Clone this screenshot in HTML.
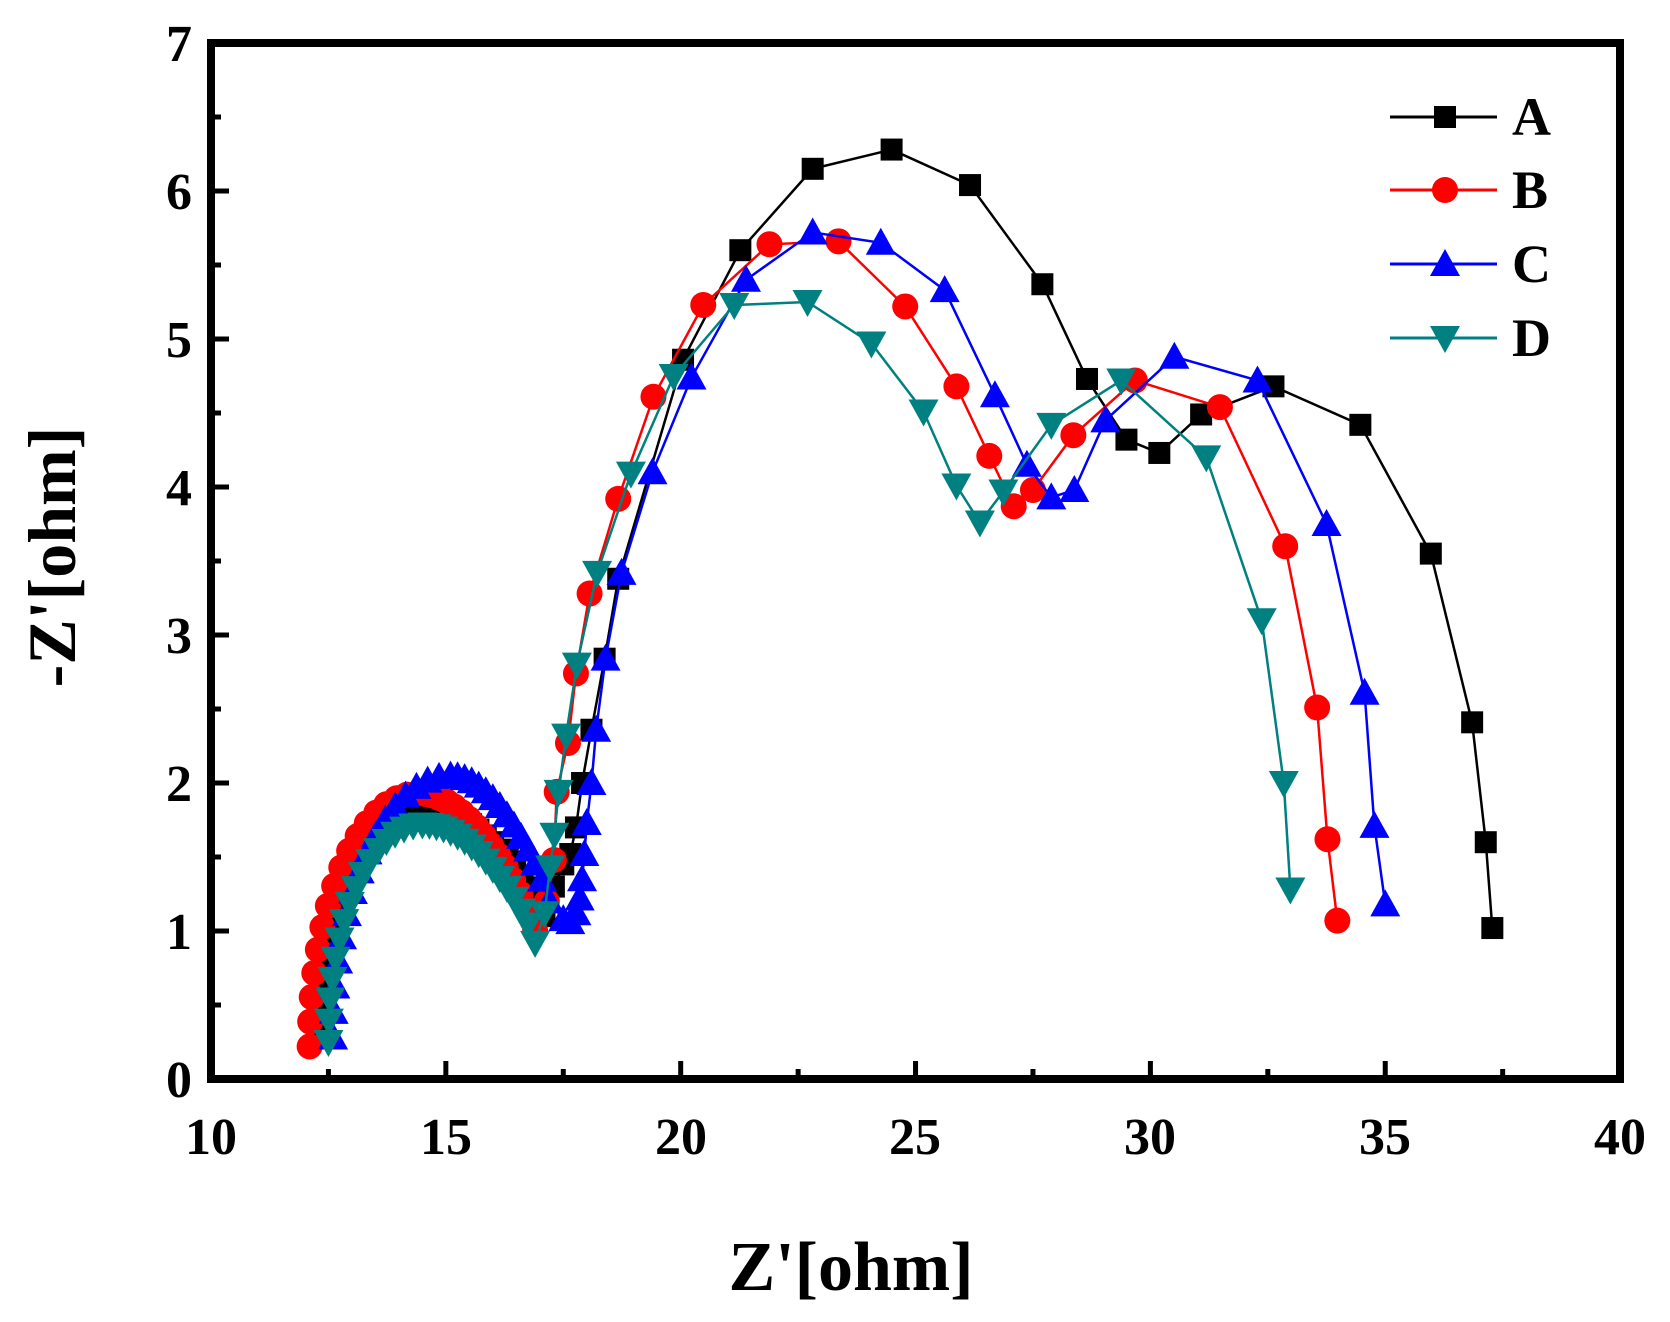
<!DOCTYPE html>
<html><head><meta charset="utf-8"><style>
html,body{margin:0;padding:0;background:#fff;}
svg{display:block;font-family:"Liberation Serif",serif;font-weight:bold;}
</style></head><body>
<svg id="s" width="1670" height="1322" viewBox="0 0 1670 1322" xmlns="http://www.w3.org/2000/svg">
<rect width="1670" height="1322" fill="#fff"/>
<g id="plot"></g>
<rect x="211" y="43" width="1409" height="1036" fill="none" stroke="#000" stroke-width="8"/>
<g id="ticks" stroke="#000" stroke-width="5"></g>
<g font-size="52" text-anchor="middle" fill="#000">
<text x="211" y="1154">10</text><text x="446" y="1154">15</text><text x="681" y="1154">20</text>
<text x="915" y="1154">25</text><text x="1150" y="1154">30</text><text x="1385" y="1154">35</text><text x="1620" y="1154">40</text>
</g>
<g font-size="52" text-anchor="end" fill="#000">
<text x="192" y="1097">0</text><text x="192" y="949">1</text><text x="192" y="801">2</text><text x="192" y="653">3</text>
<text x="192" y="505">4</text><text x="192" y="357">5</text><text x="192" y="209">6</text><text x="192" y="61">7</text>
</g>
<text x="851" y="1290" font-size="70" text-anchor="middle">Z'[ohm]</text>
<text transform="translate(75,557) rotate(-90)" font-size="68" text-anchor="middle">-Z'[ohm]</text>
<g id="legend"></g>
</svg>
<script>
var NS="http://www.w3.org/2000/svg";
function X(x){return 211+(x-10)*46.97;}
function Y(y){return 1079-y*148;}
function el(t,a,p){var e=document.createElementNS(NS,t);for(var k in a)e.setAttribute(k,a[k]);p.appendChild(e);return e;}
var tk=document.getElementById('ticks');
for(var v=10;v<=40;v+=2.5){var px=X(v),L=(v%5==0)?18:10;el('line',{x1:px,y1:1079,x2:px,y2:1079-L},tk);}
for(var v=0;v<=7;v+=0.5){var py=Y(v),L=(v%1==0)?18:10;el('line',{x1:211,y1:py,x2:211+L,y2:py},tk);}
function arc(x0,y0,xp,yp,xm,ym,n1,n2){var pts=[];
 for(var i=0;i<n1;i++){var th=Math.PI-(Math.PI/2)*i/n1;pts.push([xp+(xp-x0)*Math.cos(th),y0+(yp-y0)*Math.sin(th)]);}
 for(var i=0;i<=n2;i++){var t=i/n2;var th=Math.PI/2*(1-t);pts.push([xp+(xm-xp)*t,ym+(yp-ym)*Math.pow(Math.sin(th),0.8)]);}
 return pts;}
var A=arc(12.3,0.3,14.6,1.82,17.1,1.1,16,16).concat([[17.3,1.3],[17.5,1.45],[17.65,1.52],[17.77,1.7],[17.9,2.0],[18.1,2.36],[18.38,2.84],[18.67,3.38],[20.05,4.86],[21.27,5.6],[22.81,6.15],[24.49,6.28],[26.16,6.04],[27.7,5.37],[28.65,4.73],[29.49,4.32],[30.19,4.23],[31.08,4.49],[32.62,4.68],[34.47,4.42],[35.97,3.55],[36.85,2.41],[37.14,1.6],[37.28,1.02]]);
var B=arc(12.1,0.22,14.4,1.93,16.9,1.0,16,16).concat([[17.15,1.2],[17.3,1.48],[17.36,1.94],[17.6,2.27],[17.77,2.74],[18.06,3.28],[18.67,3.92],[19.42,4.61],[20.48,5.23],[21.89,5.64],[23.36,5.66],[24.78,5.22],[25.87,4.68],[26.57,4.21],[27.09,3.87],[27.5,3.98],[28.36,4.35],[29.67,4.72],[31.48,4.54],[32.87,3.6],[33.55,2.51],[33.77,1.62],[33.98,1.07]]);
var C=arc(12.6,0.28,15.1,2.05,17.2,1.2,16,14).concat([[17.5,1.08],[17.65,1.06],[17.78,1.12],[17.85,1.22],[17.9,1.35],[17.95,1.52],[18.0,1.73],[18.1,2.0],[18.2,2.36],[18.4,2.84],[18.74,3.42],[19.4,4.1],[20.23,4.74],[21.39,5.4],[22.81,5.72],[24.26,5.65],[25.62,5.33],[26.69,4.62],[27.37,4.15],[27.89,3.93],[28.38,3.98],[29.04,4.45],[30.51,4.88],[32.28,4.72],[33.75,3.75],[34.56,2.61],[34.77,1.71],[35.0,1.18]]);
var D=arc(12.5,0.25,14.5,1.72,16.9,0.92,16,16).concat([[17.1,1.12],[17.22,1.43],[17.31,1.65],[17.4,1.94],[17.56,2.32],[17.79,2.8],[18.22,3.42],[18.94,4.09],[19.85,4.75],[21.14,5.23],[22.7,5.25],[24.06,4.97],[25.17,4.51],[25.87,4.01],[26.37,3.76],[26.87,3.97],[27.89,4.42],[29.38,4.72],[31.19,4.2],[32.37,3.1],[32.84,2.0],[32.98,1.28]]);
function marker(type,x,y,c,g){
 if(type=='sq')el('rect',{x:x-11,y:y-11,width:22,height:22,fill:c},g);
 else if(type=='ci')el('circle',{cx:x,cy:y,r:13,fill:c},g);
 else if(type=='up')el('polygon',{points:(x)+','+(y-15)+' '+(x-15)+','+(y+12)+' '+(x+15)+','+(y+12),fill:c},g);
 else el('polygon',{points:(x)+','+(y+15)+' '+(x-15)+','+(y-12)+' '+(x+15)+','+(y-12),fill:c},g);}
var plot=document.getElementById('plot');
var S=[[A,'#000','sq'],[B,'#ff0000','ci'],[C,'#0000ff','up'],[D,'#008080','dn']];
S.forEach(function(s){var g=el('g',{},plot);
 el('polyline',{points:s[0].map(function(p){return X(p[0]).toFixed(1)+','+Y(p[1]).toFixed(1);}).join(' '),fill:'none',stroke:s[1],'stroke-width':2.5},g);
 s[0].forEach(function(p){marker(s[2],X(p[0]),Y(p[1]),s[1],g);});});
var lg=document.getElementById('legend');var names=['A','B','C','D'],ly=[117,190,264,338];
S.forEach(function(s,i){el('line',{x1:1390,y1:ly[i],x2:1497,y2:ly[i],stroke:s[1],'stroke-width':3},lg);
 marker(s[2],1445,ly[i],s[1],lg);
 var t=el('text',{x:1512,y:ly[i]+18,'font-size':54,fill:'#000'},lg);t.textContent=names[i];});
</script>
</body></html>
